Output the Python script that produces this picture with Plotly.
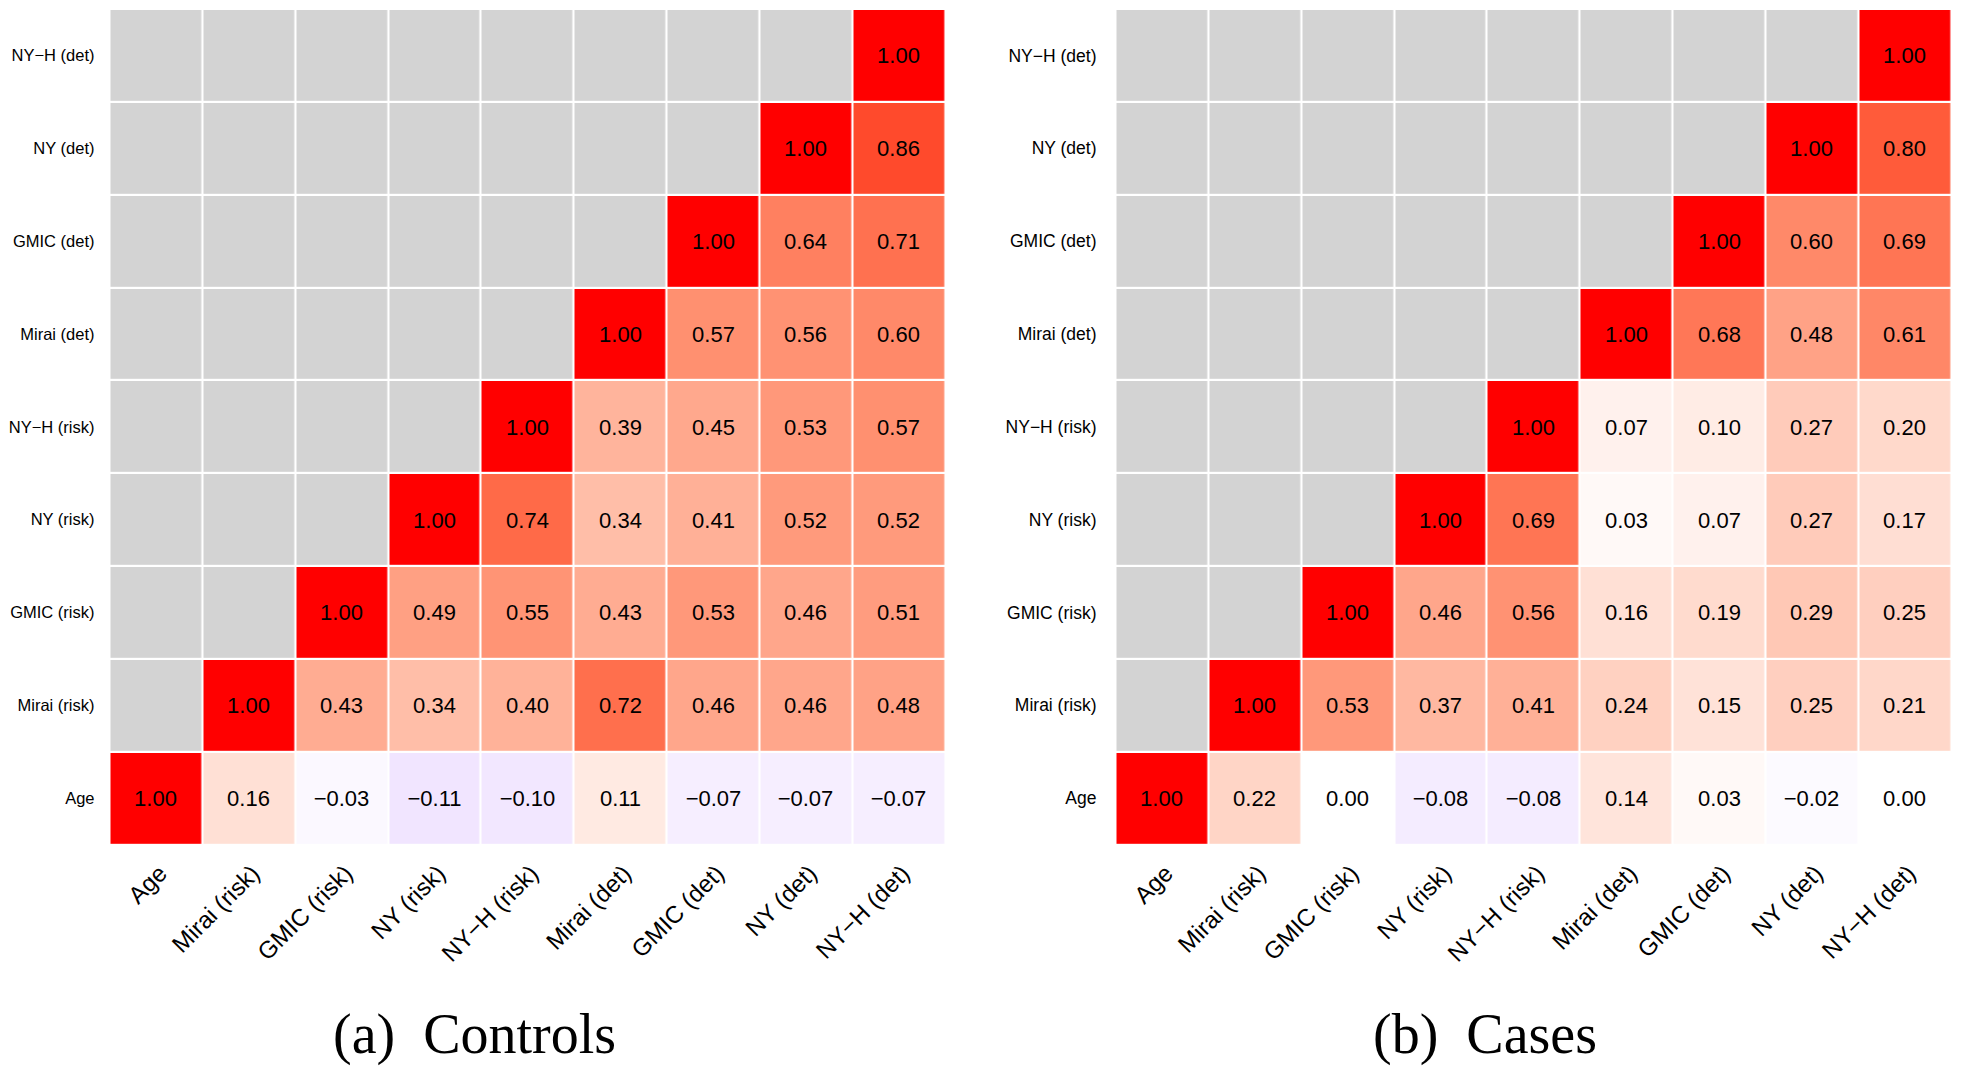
import numpy as np
import plotly.graph_objects as go

# ---------------- data ----------------
labels = ["Age", "Mirai (risk)", "GMIC (risk)", "NY (risk)", "NY\u2212H (risk)",
          "Mirai (det)", "GMIC (det)", "NY (det)", "NY\u2212H (det)"]
N = np.nan

# rows listed bottom (Age) to top (NY-H (det)); columns in label order
controls = [
    [1.00, 0.16, -0.03, -0.11, -0.10, 0.11, -0.07, -0.07, -0.07],
    [N, 1.00, 0.43, 0.34, 0.40, 0.72, 0.46, 0.46, 0.48],
    [N, N, 1.00, 0.49, 0.55, 0.43, 0.53, 0.46, 0.51],
    [N, N, N, 1.00, 0.74, 0.34, 0.41, 0.52, 0.52],
    [N, N, N, N, 1.00, 0.39, 0.45, 0.53, 0.57],
    [N, N, N, N, N, 1.00, 0.57, 0.56, 0.60],
    [N, N, N, N, N, N, 1.00, 0.64, 0.71],
    [N, N, N, N, N, N, N, 1.00, 0.86],
    [N, N, N, N, N, N, N, N, 1.00],
]
cases = [
    [1.00, 0.22, 0.00, -0.08, -0.08, 0.14, 0.03, -0.02, 0.00],
    [N, 1.00, 0.53, 0.37, 0.41, 0.24, 0.15, 0.25, 0.21],
    [N, N, 1.00, 0.46, 0.56, 0.16, 0.19, 0.29, 0.25],
    [N, N, N, 1.00, 0.69, 0.03, 0.07, 0.27, 0.17],
    [N, N, N, N, 1.00, 0.07, 0.10, 0.27, 0.20],
    [N, N, N, N, N, 1.00, 0.68, 0.48, 0.61],
    [N, N, N, N, N, N, 1.00, 0.60, 0.69],
    [N, N, N, N, N, N, N, 1.00, 0.80],
    [N, N, N, N, N, N, N, N, 1.00],
]
titles = ["(a)\u00a0 Controls", "(b)\u00a0 Cases"]

# ---------------- Lab-interpolated blue-white-red scale ----------------
WHITE = np.array([0.95047, 1.0, 1.08883])

def srgb_to_lab(rgb):
    c = np.array(rgb, float) / 255.0
    c = np.where(c <= 0.04045, c / 12.92, ((c + 0.055) / 1.055) ** 2.4)
    M = np.array([[0.4124564, 0.3575761, 0.1804375],
                  [0.2126729, 0.7151522, 0.0721750],
                  [0.0193339, 0.1191920, 0.9503041]])
    xyz = M @ c / WHITE
    f = np.where(xyz > 216 / 24389, np.cbrt(xyz), (24389 / 27 * xyz + 16) / 116)
    return np.array([116 * f[1] - 16, 500 * (f[0] - f[1]), 200 * (f[1] - f[2])])

def lab_to_srgb(lab):
    L, a, b = lab
    fy = (L + 16) / 116
    fx = fy + a / 500
    fz = fy - b / 200
    f = np.array([fx, fy, fz])
    xyz = np.where(f ** 3 > 216 / 24389, f ** 3, (116 * f - 16) / (24389 / 27)) * WHITE
    Minv = np.array([[3.2404542, -1.5371385, -0.4985314],
                     [-0.9692660, 1.8760108, 0.0415560],
                     [0.0556434, -0.2040259, 1.0572252]])
    c = Minv @ xyz
    c = np.clip(c, 0, 1)
    c = np.where(c <= 0.0031308, 12.92 * c, 1.055 * c ** (1 / 2.4) - 0.055)
    return tuple(int(round(v * 255)) for v in np.clip(c, 0, 1))

lo, mid, hi = srgb_to_lab((0, 0, 255)), srgb_to_lab((255, 255, 255)), srgb_to_lab((255, 0, 0))
colorscale = []
n = 40
for i in range(n + 1):
    t = i / n
    if t <= 0.5:
        lab = lo + (mid - lo) * (t / 0.5)
    else:
        lab = mid + (hi - mid) * ((t - 0.5) / 0.5)
    r, g, b = lab_to_srgb(lab)
    colorscale.append([t, f"rgb({r},{g},{b})"])

# ---------------- figure ----------------
# the page body has an 8px margin, so the figure is sized/offset to compensate
OFF = 8
W, H = 1961 - OFF, 1071 - OFF
fig = go.Figure()

x_px = [(109.5 - OFF, 945.2 - OFF), (1115.5 - OFF, 1951.2 - OFF)]
y_px = (9.0 - OFF, 844.5 - OFF)
title_x = [474 - OFF, 1485 - OFF]
title_y = 1034 - OFF
GAP = 2.2
SANS = "Liberation Sans, Arial, Helvetica"

def fmt(v):
    if np.isnan(v):
        return ""
    s = f"{v:.2f}"
    return s.replace("-", "\u2212")

for k, mat in enumerate([controls, cases]):
    z = np.array(mat, float)
    mask = np.where(np.isnan(z), 0.0, np.nan)
    text = [[fmt(v) for v in row] for row in z]
    xa = "x" if k == 0 else "x2"
    ya = "y" if k == 0 else "y2"
    fig.add_trace(go.Heatmap(
        z=mask, x=labels, y=labels, xaxis=xa, yaxis=ya,
        colorscale=[[0, "#d3d3d3"], [1, "#d3d3d3"]], showscale=False,
        xgap=GAP, ygap=GAP, hoverinfo="skip"))
    fig.add_trace(go.Heatmap(
        z=z, x=labels, y=labels, xaxis=xa, yaxis=ya,
        colorscale=colorscale, zmin=-1, zmax=1, showscale=False,
        xgap=GAP, ygap=GAP, text=text, texttemplate="%{text}",
        textfont=dict(family=SANS, size=22, color="black"),
        hoverinfo="skip"))

axis_common = dict(showgrid=False, zeroline=False, showline=False, ticks="", automargin=False)
xfont = dict(family=SANS, size=24, color="black")
fig.update_layout(
    width=W, height=H, margin=dict(l=0, r=0, t=0, b=0, autoexpand=False),
    paper_bgcolor="white", plot_bgcolor="white",
    xaxis=dict(domain=[x_px[0][0] / W, x_px[0][1] / W], anchor="y", tickangle=-45,
               tickfont=xfont, ticklabelstandoff=9, ticklabelshift=4, **axis_common),
    xaxis2=dict(domain=[x_px[1][0] / W, x_px[1][1] / W], anchor="y2", tickangle=-45,
                tickfont=xfont, ticklabelstandoff=9, ticklabelshift=4, **axis_common),
    yaxis=dict(domain=[1 - y_px[1] / H, 1 - y_px[0] / H], anchor="x",
               tickfont=dict(family=SANS, size=16.5, color="black"),
               ticklabelstandoff=14, **axis_common),
    yaxis2=dict(domain=[1 - y_px[1] / H, 1 - y_px[0] / H], anchor="x2",
                tickfont=dict(family=SANS, size=17.5, color="black"),
                ticklabelstandoff=18, **axis_common),
    showlegend=False,
)

for k in range(2):
    fig.add_annotation(
        text=titles[k], x=title_x[k] / W, y=(H - title_y) / H, xref="paper", yref="paper",
        xanchor="center", yanchor="middle", showarrow=False,
        font=dict(family="Liberation Serif, Times New Roman, serif", size=56, color="black"))

fig.write_html("out.html")
